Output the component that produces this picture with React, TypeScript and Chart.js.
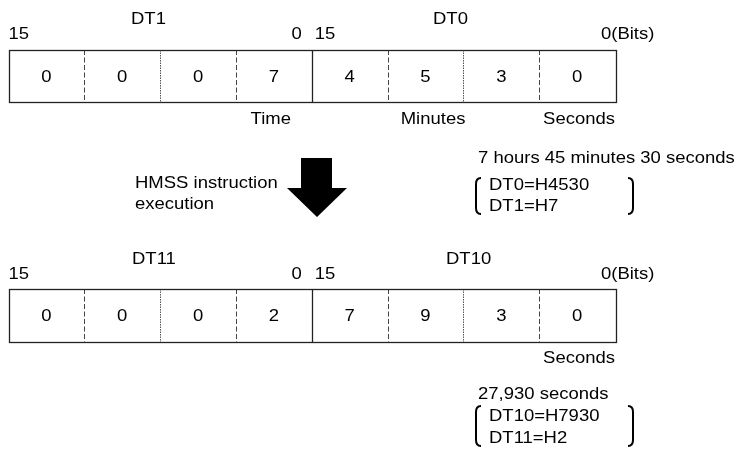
import React, { useEffect, useRef } from "react";
import { Chart, registerables } from "chart.js";

Chart.register(...registerables);

// ---- data ----
const topWords = ["DT1", "DT0"];
const bottomWords = ["DT11", "DT10"];
const topNibbles = [0, 0, 0, 7, 4, 5, 3, 0];
const bottomNibbles = [0, 0, 0, 2, 7, 9, 3, 0];
const bitLabels = ["15", "0", "15", "0(Bits)"];
const topUnits = ["Time", "Minutes", "Seconds"];
const bottomUnits = ["Seconds"];
const instructionText = ["HMSS instruction", "execution"];
const topSummary = "7 hours 45 minutes 30 seconds";
const topResult = ["DT0=H4530", "DT1=H7"];
const bottomSummary = "27,930 seconds";
const bottomResult = ["DT10=H7930", "DT11=H2"];

// divider styles between nibbles (index 1..7)
const dividerKinds = ["dash", "dot", "dash", "solid", "dash", "dot", "dash"];

const FONT = '16.5px "Liberation Sans", Arial, sans-serif';
const SX = 1.12;
const DY = 1.8;

function txt(ctx: CanvasRenderingContext2D, s: string, x: number, y: number, align: "left" | "center" | "right" = "left") {
  ctx.save();
  ctx.font = FONT;
  ctx.fillStyle = "#000";
  ctx.textBaseline = "middle";
  const w = ctx.measureText(s).width * SX;
  let left = x;
  if (align === "center") left = x - w / 2;
  if (align === "right") left = x - w;
  ctx.translate(left, y + DY);
  ctx.scale(SX, 1);
  ctx.textAlign = "left";
  ctx.fillText(s, 0, 0);
  ctx.restore();
}

function bracket(ctx: CanvasRenderingContext2D, x: number, top: number, bottom: number, dir: number) {
  ctx.save();
  ctx.strokeStyle = "#000";
  ctx.lineWidth = 2;
  ctx.beginPath();
  ctx.moveTo(x + dir * 5, top);
  ctx.quadraticCurveTo(x, top, x, top + 6);
  ctx.lineTo(x, bottom - 6);
  ctx.quadraticCurveTo(x, bottom, x + dir * 5, bottom);
  ctx.stroke();
  ctx.restore();
}

const diagramPlugin = {
  id: "diagram",
  afterDatasetsDraw(chart: any) {
    const ctx: CanvasRenderingContext2D = chart.ctx;
    const xs = chart.scales.x;
    const ys = chart.scales.y;
    const X = (v: number) => xs.getPixelForValue(v);
    const Y = (v: number) => ys.getPixelForValue(v);

    const rows = [
      { top: 50, bottom: 102, words: topWords, wordX: [131, 433], wordY: 18, bitY: 33, units: topUnits, unitX: [3.46, 5.6, 8], unitAlign: ["center", "center", "right"], unitY: 118, ds: 0 },
      { top: 289, bottom: 342, words: bottomWords, wordX: [132, 446], wordY: 258, bitY: 273, units: bottomUnits, unitX: [8], unitAlign: ["right"], unitY: 357, ds: 1 },
    ];

    rows.forEach((r) => {
      const l = X(0), rr = X(8), t = Y(r.top), b = Y(r.bottom);
      dividerKinds.forEach((k, i) => {
        const x = Math.round(X(i + 1)) + 0.5;
        ctx.save();
        if (k === "solid") {
          ctx.strokeStyle = "#222";
          ctx.lineWidth = 1.3;
          ctx.setLineDash([]);
        } else if (k === "dash") {
          ctx.strokeStyle = "#444";
          ctx.lineWidth = 1;
          ctx.setLineDash([5, 2.5]);
        } else {
          ctx.strokeStyle = "#555";
          ctx.lineWidth = 1;
          ctx.setLineDash([1.5, 1]);
        }
        ctx.beginPath();
        ctx.moveTo(x, t);
        ctx.lineTo(x, b);
        ctx.stroke();
        ctx.restore();
      });
      ctx.save();
      ctx.strokeStyle = "#222";
      ctx.lineWidth = 1.3;
      ctx.strokeRect(Math.round(l) + 0.5, Math.round(t) + 0.5, Math.round(rr - l), Math.round(b - t));
      ctx.restore();

      const meta = chart.getDatasetMeta(r.ds);
      const vals = chart.data.datasets[r.ds].values as number[];
      meta.data.forEach((pt: any, i: number) => {
        txt(ctx, String(vals[i]), pt.x, pt.y, "center");
      });

      r.words.forEach((w, i) => txt(ctx, w, r.wordX[i], r.wordY, "left"));
      txt(ctx, bitLabels[0], X(0), r.bitY, "left");
      txt(ctx, bitLabels[1], X(4) - 10, r.bitY, "right");
      txt(ctx, bitLabels[2], X(4) + 3, r.bitY, "left");
      txt(ctx, bitLabels[3], X(8) - 14, r.bitY, "left");
      r.units.forEach((u, i) => txt(ctx, u, X(r.unitX[i]), r.unitY, r.unitAlign[i] as any));
    });

    // arrow
    ctx.save();
    ctx.fillStyle = "#000";
    ctx.beginPath();
    ctx.moveTo(301, 158);
    ctx.lineTo(332, 158);
    ctx.lineTo(332, 188);
    ctx.lineTo(347, 188);
    ctx.lineTo(317, 217);
    ctx.lineTo(287, 188);
    ctx.lineTo(301, 188);
    ctx.closePath();
    ctx.fill();
    ctx.restore();

    txt(ctx, instructionText[0], 135, 182);
    txt(ctx, instructionText[1], 135, 203);

    txt(ctx, topSummary, 478, 157);
    bracket(ctx, 476, 178, 214, 1);
    bracket(ctx, 633, 178, 214, -1);
    txt(ctx, topResult[0], 489, 184);
    txt(ctx, topResult[1], 489, 205);

    txt(ctx, bottomSummary, 478, 393);
    bracket(ctx, 476, 406, 446, 1);
    bracket(ctx, 633, 406, 446, -1);
    txt(ctx, bottomResult[0], 489, 415);
    txt(ctx, bottomResult[1], 489, 437);
  },
};

export default function App() {
  const ref = useRef<HTMLCanvasElement>(null);
  useEffect(() => {
    document.body.style.margin = "0";
    const canvas = ref.current!;
    const chart = new Chart(canvas, {
      type: "scatter",
      data: {
        datasets: [
          { data: topNibbles.map((_, i) => ({ x: i + 0.5, y: 76 })), values: topNibbles, pointRadius: 0 } as any,
          { data: bottomNibbles.map((_, i) => ({ x: i + 0.5, y: 315 })), values: bottomNibbles, pointRadius: 0 } as any,
        ],
      },
      options: {
        animation: false,
        responsive: false,
        layout: { padding: { left: 8.5, right: 123, top: 0, bottom: 0 } },
        plugins: { legend: { display: false }, tooltip: { enabled: false } },
        scales: {
          x: { type: "linear", min: 0, max: 8, display: false },
          y: { type: "linear", min: 0, max: 457, reverse: true, display: false },
        },
        events: [],
      },
      plugins: [diagramPlugin],
    });
    return () => chart.destroy();
  }, []);
  return (
    <div style={{ position: "fixed", left: 0, top: 0, width: 738, height: 457, background: "#fff" }}>
      <canvas ref={ref} width={738} height={457} style={{ display: "block" }} />
    </div>
  );
}
